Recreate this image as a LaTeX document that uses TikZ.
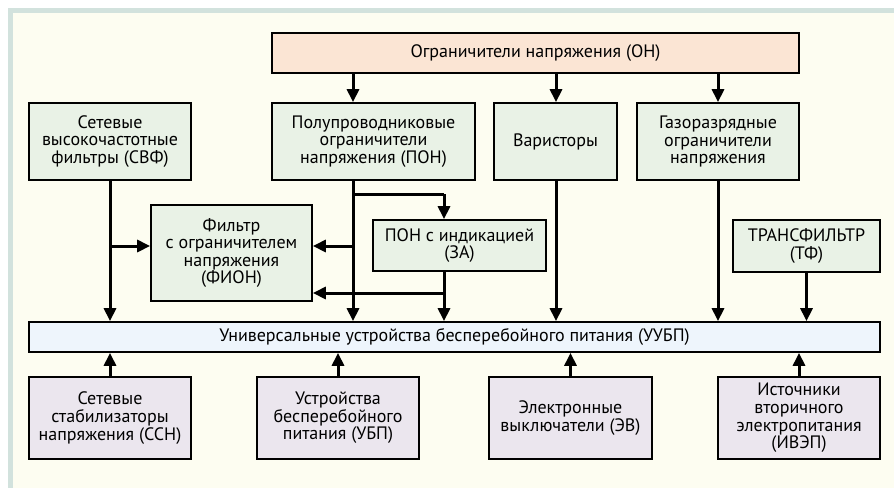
\documentclass[tikz,border=0pt]{standalone}
\usepackage{fontspec}
\setmainfont{PT Sans}
\usetikzlibrary{arrows.meta}
\definecolor{frameC}{HTML}{D2E2DD}
\definecolor{creamC}{HTML}{FDFDF1}
\definecolor{peachC}{HTML}{FBE5D4}
\definecolor{greenC}{HTML}{E9F2E6}
\definecolor{blueC}{HTML}{EEF5FC}
\definecolor{lilacC}{HTML}{EBE6EE}
\tikzset{
  box/.style={draw=black, line width=1.7pt, align=center, inner sep=1pt, font=\fontsize{18}{17.6}\selectfont},
  gbox/.style={box, fill=greenC},
  lbox/.style={box, fill=lilacC},
  arr/.style={line width=3pt, -{Triangle[width=12pt,length=13pt]}},
  ln/.style={line width=3pt},
}
\begin{document}
\begin{tikzpicture}[x=1pt,y=-1pt]
\fill[white] (0,0) rectangle (894,488);
\fill[frameC] (8,8) rectangle (894,488);
\fill[creamC] (13,13) rectangle (894,488);
\useasboundingbox (0,0) rectangle (894,488);

\node[box, fill=peachC, minimum width=527pt, minimum height=40pt] (on) at (535.5,53) {Ограничители напряжения (ОН)};
\node[gbox, minimum width=162pt, minimum height=77pt] (svf) at (110,141.5) {Сетевые\\высокочастотные\\фильтры (СВФ)};
\node[gbox, minimum width=203pt, minimum height=77pt] (pon) at (373.5,141.5) {Полупроводниковые\\ограничители\\напряжения (ПОН)};
\node[gbox, minimum width=123pt, minimum height=77pt] (var) at (555.5,141.5) {Варисторы};
\node[gbox, minimum width=162pt, minimum height=77pt] (gaz) at (718,141.5) {Газоразрядные\\ограничители\\напряжения};
\node[gbox, minimum width=161pt, minimum height=96pt] (fion) at (231.5,253) {Фильтр\\с ограничителем\\напряжения\\(ФИОН)};
\node[gbox, minimum width=173pt, minimum height=51pt] (ponind) at (459.5,245.5) {ПОН с индикацией\\(ЗА)};
\node[gbox, minimum width=147pt, minimum height=52pt] (tf) at (806.5,246) {ТРАНСФИЛЬТР\\(ТФ)};
\node[box, fill=blueC, minimum width=851pt, minimum height=30pt] (uubp) at (454.5,337) {Универсальные устройства бесперебойного питания (УУБП)};
\node[lbox, minimum width=162pt, minimum height=82pt] (ssn) at (110,418) {Сетевые\\стабилизаторы\\напряжения (ССН)};
\node[lbox, minimum width=162pt, minimum height=82pt] (ubp) at (338,418) {Устройства\\бесперебойного\\питания (УБП)};
\node[lbox, minimum width=163pt, minimum height=82pt] (ev) at (570.5,418) {Электронные\\выключатели (ЭВ)};
\node[lbox, minimum width=162pt, minimum height=82pt] (ivep) at (799,418) {Источники\\вторичного\\электропитания\\(ИВЭП)};

\coordinate (xp) at (353,0);
\coordinate (xv) at (556,0);
\coordinate (xg) at (718,0);
\coordinate (xi) at (444,0);
\coordinate (ya) at (0,194);
\coordinate (yb) at (0,246);
\coordinate (yc) at (0,293);

% from ОН
\draw[arr] (on.south -| xp) -- (pon.north -| xp);
\draw[arr] (on.south -| xv) -- (var.north -| xv);
\draw[arr] (on.south -| xg) -- (gaz.north -| xg);

% СВФ
\draw[arr] (svf.south) -- (uubp.north -| svf.south);
\draw[arr] (yb -| svf.south) -- (yb -| fion.west);

% ПОН
\draw[arr] (pon.south -| xp) -- (uubp.north -| xp);
\draw[ln] (ya -| xp) -- (ya -| xi);
\draw[arr] (ya -| xi) -- (ponind.north -| xi);
\draw[arr] (yb -| xp) -- (yb -| fion.east);

% ПОН с индикацией
\draw[arr] (ponind.south -| xi) -- (uubp.north -| xi);
\draw[arr] (yc -| xi) -- (yc -| fion.east);

% Варисторы, Газоразрядные, ТФ
\draw[arr] (var.south -| xv) -- (uubp.north -| xv);
\draw[arr] (gaz.south -| xg) -- (uubp.north -| xg);
\draw[arr] (tf.south) -- (uubp.north -| tf.south);

% bottom
\draw[arr] (ssn.north) -- (uubp.south -| ssn.north);
\draw[arr] (ubp.north) -- (uubp.south -| ubp.north);
\draw[arr] (ev.north) -- (uubp.south -| ev.north);
\draw[arr] (ivep.north) -- (uubp.south -| ivep.north);
\end{tikzpicture}
\end{document}
